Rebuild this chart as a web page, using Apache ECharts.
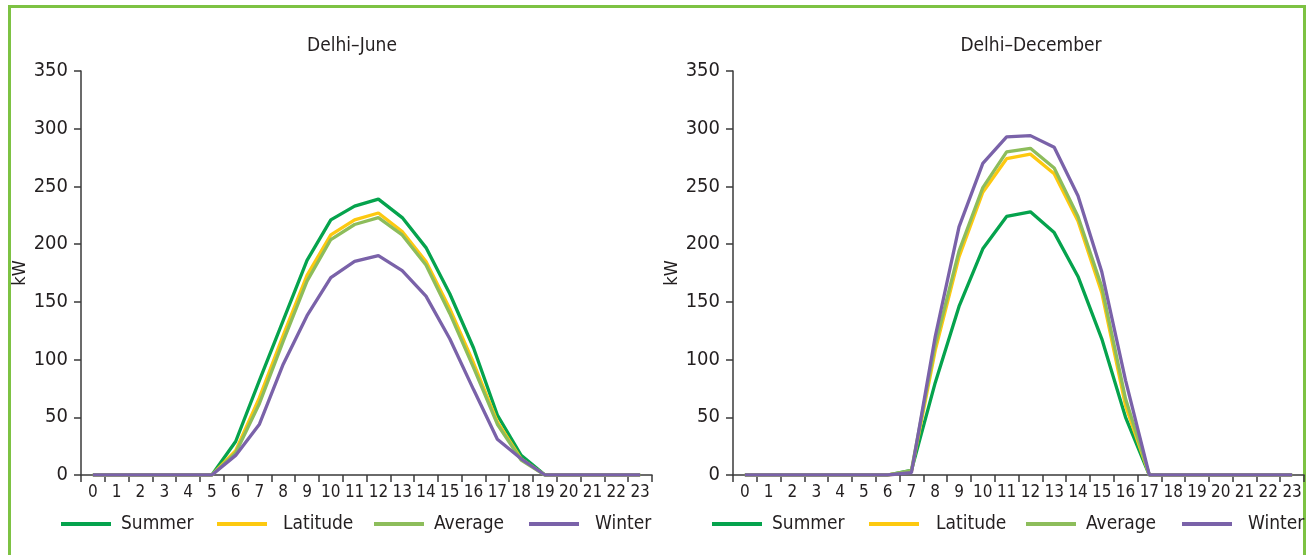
<!DOCTYPE html>
<html>
<head>
<meta charset="utf-8">
<script src="https://cdn.jsdelivr.net/npm/echarts@6/dist/echarts.min.js"></script>
<style>
html,body{margin:0;padding:0;background:#fff;}
#chart{width:1308px;height:555px;}
</style>
</head>
<body>
<div id="chart"></div>
<script>
var hours = ['0','1','2','3','4','5','6','7','8','9','10','11','12','13','14','15','16','17','18','19','20','21','22','23'];
var seriesNames = ['Summer','Latitude','Average','Winter'];
var yTicks = [0, 50, 100, 150, 200, 250, 300, 350];
var chartTitles = ['Delhi\u2013June', 'Delhi\u2013December'];
var unitLabel = 'kW';

var juneSummer   = [0,0,0,0,0,0,29,82,134,186,221,233,239,223,197,157,110,52,17,0,0,0,0,0];
var juneLatitude = [0,0,0,0,0,0,21,67,121,173,208,221,227,211,185,144,97,46,14,0,0,0,0,0];
var juneAverage  = [0,0,0,0,0,0,19,62,116,168,204,217,223,208,182,140,93,44,13,0,0,0,0,0];
var juneWinter   = [0,0,0,0,0,0,17,44,96,138,171,185,190,177,155,118,74,31,14,0,0,0,0,0];

var decSummer   = [0,0,0,0,0,0,0,4,80,146,196,224,228,210,172,118,50,0,0,0,0,0,0,0];
var decLatitude = [0,0,0,0,0,0,0,3,108,189,245,274,278,261,220,158,60,0,0,0,0,0,0,0];
var decAverage  = [0,0,0,0,0,0,0,4,113,194,249,280,283,266,224,163,66,0,0,0,0,0,0,0];
var decWinter   = [0,0,0,0,0,0,0,2,120,215,270,293,294,284,242,176,82,0,0,0,0,0,0,0];

var colors = {Summer:'#05a34d', Latitude:'#fdc910', Average:'#8dbd5b', Winter:'#7a62a9'};
var FONT = '"DejaVu Sans Condensed", "Liberation Sans Narrow", sans-serif';
var TXT = '#231f20';

var chart = echarts.init(document.getElementById('chart'), null, {renderer:'canvas'});

function mkX(gi){
  return {
    type:'category', gridIndex:gi, data:hours, boundaryGap:true,
    axisLine:{lineStyle:{color:'#3a3a3a', width:1.5}},
    axisTick:{show:true, interval:0, length:7, lineStyle:{color:'#3a3a3a', width:1.5}},
    axisLabel:{interval:0, margin:9, color:TXT, fontFamily:FONT, fontSize:17},
    splitLine:{show:false}
  };
}
function mkY(gi){
  return {
    type:'value', gridIndex:gi, min:yTicks[0], max:yTicks[yTicks.length-1], interval:50,
    name:unitLabel, nameLocation:'middle', nameRotate:90, nameGap:52,
    nameTextStyle:{color:TXT, fontFamily:FONT, fontSize:18},
    axisLine:{show:true, lineStyle:{color:'#3a3a3a', width:1.5}},
    axisTick:{show:true, length:7, lineStyle:{color:'#3a3a3a', width:1.5}},
    axisLabel:{margin:13, color:TXT, fontFamily:FONT, fontSize:20},
    splitLine:{show:false}
  };
}
function mkS(name, gi, data){
  return {
    name:name, type:'line', xAxisIndex:gi, yAxisIndex:gi, data:data,
    symbol:'none', smooth:false, silent:true,
    lineStyle:{color:colors[name], width:3.3},
    itemStyle:{color:colors[name]},
    z: 2 + seriesNames.indexOf(name)
  };
}
function mkLegend(name, left, pad){
  return {
    data:[name], left:left, top:514, icon:'rect', itemWidth:50, itemHeight:4,
    itemGap:0, padding:0, selectedMode:false,
    textStyle:{color:TXT, fontFamily:FONT, fontSize:19, lineHeight:20, padding:[0,0,0,pad]}
  };
}

var option = {
  backgroundColor:'#ffffff',
  animation:false,
  title:[
    {text:chartTitles[0], left:352, top:37, textAlign:'center', padding:0,
     textStyle:{color:TXT, fontFamily:FONT, fontSize:19, fontWeight:'normal'}},
    {text:chartTitles[1], left:1031, top:37, textAlign:'center', padding:0,
     textStyle:{color:TXT, fontFamily:FONT, fontSize:19, fontWeight:'normal'}}
  ],
  grid:[
    {left:81, top:71, width:571, height:404, containLabel:false},
    {left:733, top:71, width:571, height:404, containLabel:false}
  ],
  xAxis:[mkX(0), mkX(1)],
  yAxis:[mkY(0), mkY(1)],
  legend:[
    mkLegend('Summer', 61, 5), mkLegend('Latitude', 217, 11),
    mkLegend('Average', 374, 5), mkLegend('Winter', 529, 11),
    mkLegend('Summer', 712, 5), mkLegend('Latitude', 869, 12),
    mkLegend('Average', 1026, 5), mkLegend('Winter', 1182, 11)
  ],
  graphic:[
    {type:'rect', shape:{x:9.5, y:6.5, width:1295, height:600},
     style:{fill:'none', stroke:'#7dc243', lineWidth:3}, silent:true, z:-1}
  ],
  series:[
    mkS('Summer',0,juneSummer), mkS('Latitude',0,juneLatitude),
    mkS('Average',0,juneAverage), mkS('Winter',0,juneWinter),
    mkS('Summer',1,decSummer), mkS('Latitude',1,decLatitude),
    mkS('Average',1,decAverage), mkS('Winter',1,decWinter)
  ]
};
chart.setOption(option);
</script>
</body>
</html>
